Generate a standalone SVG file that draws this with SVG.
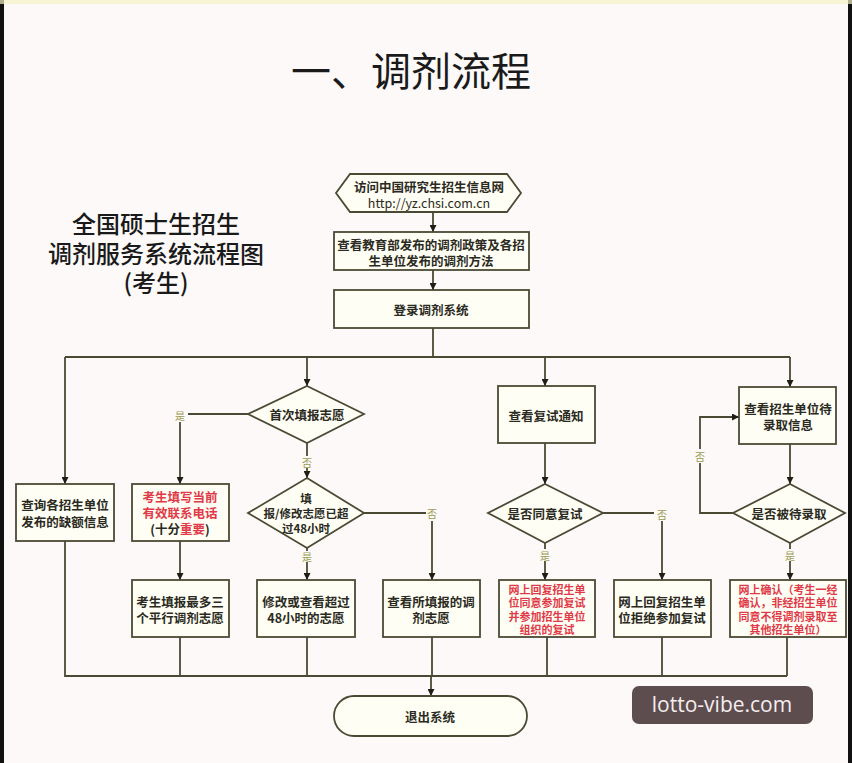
<svg xmlns="http://www.w3.org/2000/svg" width="852" height="763" viewBox="0 0 852 763">
<defs>
<marker id="ah" viewBox="0 0 10 10" refX="10" refY="5" markerWidth="7" markerHeight="7" markerUnits="userSpaceOnUse" orient="auto">
<path d="M0,0 L10,5 L0,10 z" fill="#1e1e14"/>
</marker>
<style>
.bg{fill:#fcf9f8}
.box{fill:#fffef4;stroke:#4a4a34;stroke-width:1.8}
.ln{fill:none;stroke:#4a4a34;stroke-width:1.8}
.ar{fill:none;stroke:#4a4a34;stroke-width:1.8;marker-end:url(#ah)}
.t{font-family:"Noto Sans CJK SC","Noto Sans",sans-serif;font-size:12.5px;font-weight:bold;fill:#2a2a22;text-anchor:middle;dominant-baseline:central}
.s{font-size:11.5px}
.xs{font-size:11px}
.r{fill:#e03a48}
.lb{font-family:"Noto Sans CJK SC",serif;font-size:10px;fill:#9a9a50;text-anchor:middle;dominant-baseline:central}
.h1{font-family:"Noto Sans CJK SC",sans-serif;font-size:40px;fill:#1a1a1a;text-anchor:middle}
.h2{font-family:"Noto Sans CJK SC",sans-serif;font-size:24px;font-weight:500;fill:#1a1a1a;text-anchor:middle;dominant-baseline:central}
</style>
</defs>
<rect class="bg" x="0" y="0" width="852" height="763"/>
<rect x="0" y="0" width="4" height="763" fill="#111"/>
<rect x="848" y="0" width="4" height="763" fill="#111"/>
<rect x="0" y="0" width="852" height="4" fill="#f6f2c8" opacity="0.7"/>

<text class="h1" x="411" y="86">一、调剂流程</text>
<text class="h2" x="156" y="222">全国硕士生招生</text>
<text class="h2" x="156" y="252">调剂服务系统流程图</text>
<text class="h2" x="156" y="281">(考生)</text>

<g id="connectors">
<path class="ar" d="M433,212 V232"/>
<path class="ar" d="M433,270 V290"/>
<path class="ln" d="M433,328 V357 M65,357 H790"/>
<path class="ar" d="M65,357 V484"/>
<path class="ar" d="M307,357 V386"/>
<path class="ar" d="M545,357 V386"/>
<path class="ar" d="M790,357 V387"/>
<path class="ln" d="M248,414 H188"/>
<path class="ar" d="M180,422 V484"/>
<path class="ln" d="M307,443 V456"/>
<path class="ar" d="M307,468 V478"/>
<path class="ar" d="M180,541 V580"/>
<path class="ln" d="M364,513 H426"/>
<path class="ar" d="M432,521 V580"/>
<path class="ln" d="M307,548 V551"/>
<path class="ar" d="M307,562 V580"/>
<path class="ar" d="M545,443 V484"/>
<path class="ln" d="M603,513 H654"/>
<path class="ar" d="M662,521 V580"/>
<path class="ln" d="M545,543 V549"/>
<path class="ar" d="M545,561 V580"/>
<path class="ar" d="M790,444 V484"/>
<path class="ln" d="M733,513 H700 V463"/>
<path class="ar" d="M700,449 V417 H739"/>
<path class="ln" d="M790,543 V549"/>
<path class="ar" d="M790,561 V580"/>
<path class="ln" d="M65,541 V676 H787 M180,637 V676 M307,637 V676 M432,637 V676 M547,637 V676 M662,637 V676 M787,637 V676"/>
<path class="ar" d="M431,676 V696"/>
<text class="lb" x="180" y="415">是</text>
<text class="lb" x="307" y="462">否</text>
<text class="lb" x="432" y="513">否</text>
<text class="lb" x="307" y="556">是</text>
<text class="lb" x="662" y="514">否</text>
<text class="lb" x="545" y="555">是</text>
<text class="lb" x="700" y="456">否</text>
<text class="lb" x="790" y="555">是</text>
</g>

<g id="n-visit">
<polygon class="box" points="336,193 350,174 507,174 521,193 507,212 350,212"/>
<text class="t" x="429" y="186">访问中国研究生招生信息网</text>
<text class="t" x="429" y="202" style="font-weight:normal">http://yz.chsi.com.cn</text>
</g>
<g id="n-policy">
<rect class="box" x="334" y="232" width="195" height="38"/>
<text class="t" x="431" y="244">查看教育部发布的调剂政策及各招</text>
<text class="t" x="431" y="260">生单位发布的调剂方法</text>
</g>
<g id="n-login">
<rect class="box" x="334" y="290" width="195" height="38"/>
<text class="t" x="431" y="309">登录调剂系统</text>
</g>
<g id="n-query">
<rect class="box" x="16" y="484" width="98" height="57"/>
<text class="t" x="65" y="504">查询各招生单位</text>
<text class="t" x="65" y="521">发布的缺额信息</text>
</g>
<g id="n-first">
<polygon class="box" points="307,386 364,414 307,443 248,414"/>
<text class="t" x="307" y="414">首次填报志愿</text>
</g>
<g id="n-phone">
<rect class="box" x="132" y="484" width="97" height="57"/>
<text class="t r" x="180" y="496">考生填写当前</text>
<text class="t r" x="180" y="512">有效联系电话</text>
<text class="t" x="180" y="528">(十分<tspan class="r">重要</tspan>)</text>
</g>
<g id="n-48h">
<polygon class="box" points="307,478 364,513 307,548 248,513"/>
<text class="t s" x="306" y="498">填</text>
<text class="t s" x="306" y="513">报/修改志愿已超</text>
<text class="t s" x="306" y="528">过48小时</text>
</g>
<g id="n-fill3">
<rect class="box" x="132" y="580" width="97" height="57"/>
<text class="t" x="180" y="601">考生填报最多三</text>
<text class="t" x="180" y="617">个平行调剂志愿</text>
</g>
<g id="n-modify">
<rect class="box" x="257" y="580" width="98" height="57"/>
<text class="t" x="306" y="601">修改或查看超过</text>
<text class="t" x="306" y="617">48小时的志愿</text>
</g>
<g id="n-view">
<rect class="box" x="383" y="580" width="97" height="57"/>
<text class="t" x="431" y="601">查看所填报的调</text>
<text class="t" x="431" y="617">剂志愿</text>
</g>
<g id="n-notice">
<rect class="box" x="498" y="386" width="97" height="57"/>
<text class="t" x="546" y="415">查看复试通知</text>
</g>
<g id="n-agree">
<polygon class="box" points="545,484 603,513 545,543 488,513"/>
<text class="t" x="545" y="513">是否同意复试</text>
</g>
<g id="n-accept">
<rect class="box" x="499" y="580" width="96" height="57"/>
<text class="t xs r" x="547" y="588.5">网上回复招生单</text>
<text class="t xs r" x="547" y="602">位同意参加复试</text>
<text class="t xs r" x="547" y="615.5">并参加招生单位</text>
<text class="t xs r" x="547" y="629">组织的复试</text>
</g>
<g id="n-refuse">
<rect class="box" x="614" y="580" width="97" height="57"/>
<text class="t" x="662" y="601">网上回复招生单</text>
<text class="t" x="662" y="617">位拒绝参加复试</text>
</g>
<g id="n-pending">
<rect class="box" x="739" y="387" width="97" height="57"/>
<text class="t" x="788" y="408">查看招生单位待</text>
<text class="t" x="788" y="424">录取信息</text>
</g>
<g id="n-admit">
<polygon class="box" points="790,484 845,513 790,543 733,513"/>
<text class="t" x="789" y="513">是否被待录取</text>
</g>
<g id="n-confirm">
<rect class="box" x="730" y="580" width="116" height="57"/>
<text class="t xs r" x="788" y="588.5">网上确认（考生一经</text>
<text class="t xs r" x="788" y="602">确认，非经招生单位</text>
<text class="t xs r" x="788" y="615.5">同意不得调剂录取至</text>
<text class="t xs r" x="788" y="629">其他招生单位）</text>
</g>
<g id="n-exit">
<rect class="box" x="334" y="696" width="193" height="40" rx="20" ry="20"/>
<text class="t" x="430" y="716">退出系统</text>
</g>
<g id="watermark">
<rect x="632" y="686" width="181" height="38" rx="7" fill="#5e4d4f"/>
<text x="722" y="712" font-family="'Open Sans','Noto Sans',sans-serif" font-size="21" fill="#f4eeee" text-anchor="middle">lotto-vibe.com</text>
</g>
</svg>
